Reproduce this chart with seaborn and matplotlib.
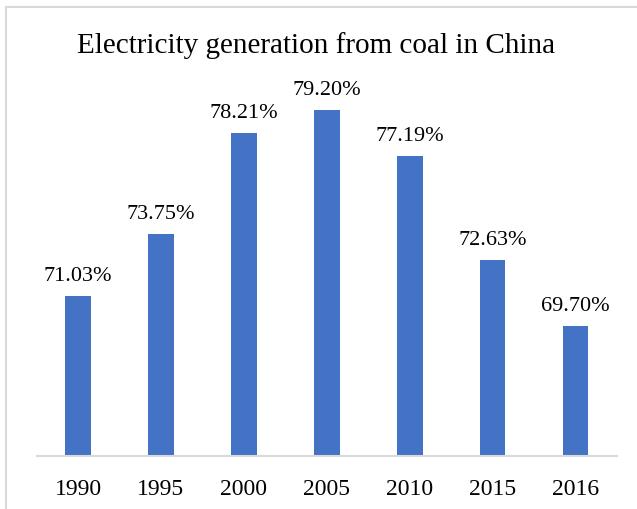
import matplotlib
matplotlib.use("Agg")
import matplotlib.pyplot as plt
import seaborn as sns
import pandas as pd
from matplotlib.patches import Rectangle

years = ["1990", "1995", "2000", "2005", "2010", "2015", "2016"]
coal_share = [71.03, 73.75, 78.21, 79.20, 77.19, 72.63, 69.70]
title = "Electricity generation from coal in China"

df = pd.DataFrame({"year": years, "share": coal_share})

sns.set_theme(style="white")
plt.rcParams["font.family"] = ["Liberation Serif", "DejaVu Serif"]

fig = plt.figure(figsize=(6.37, 5.10), dpi=100)
ax = fig.add_axes([36.6 / 637, 53 / 510, 580.4 / 637, (457 - 93.2) / 510])

sns.barplot(data=df, x="year", y="share", color="#4472C4", saturation=1,
            width=0.31, ax=ax, edgecolor="none")

ax.set_ylim(64, 80)
ax.set_xlim(-0.5, 6.5)
ax.set_xlabel("")
ax.set_ylabel("")
ax.set_yticks([])
for s in ["top", "right", "left"]:
    ax.spines[s].set_visible(False)
ax.spines["bottom"].set_color("#d9d9d9")
ax.spines["bottom"].set_linewidth(1.5)
ax.tick_params(axis="x", length=0, pad=16, labelsize=17, labelcolor="black")

for i, v in enumerate(coal_share):
    ax.annotate(f"{v:.2f}%", (i, v), xytext=(0, 8), textcoords="offset points",
                ha="center", va="bottom", fontsize=16, color="black",
                annotation_clip=False)

fig.text(316 / 637, 1 - 46 / 510, title, ha="center", va="center",
         fontsize=21, color="black")

# chart frame (top and left edges show, rest runs off the canvas)
fig.patches.append(Rectangle((6.5 / 637, -0.05), 2, 1 - 7.5 / 510 + 0.05,
                             transform=fig.transFigure, fill=False,
                             edgecolor="#d9d9d9", linewidth=1.5))

fig.savefig("out.png", dpi=100, facecolor="white")
